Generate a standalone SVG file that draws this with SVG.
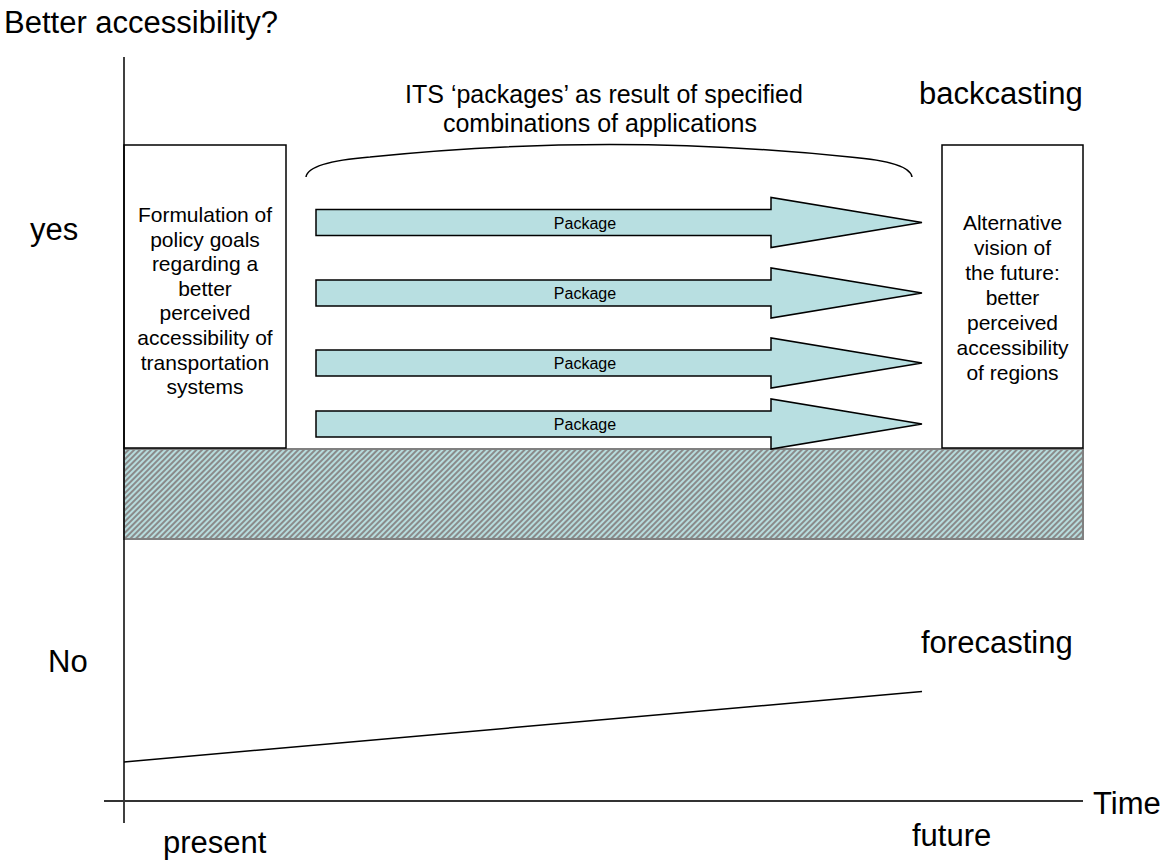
<svg xmlns="http://www.w3.org/2000/svg" width="1171" height="861" viewBox="0 0 1171 861">
  <style>
    text { font-family: "Liberation Sans", Arial, sans-serif; fill: #000; }
    .big { font-size: 31px; }
    .mid { font-size: 25px; }
    .box-text { font-size: 21px; text-anchor: middle; }
    .pkg-text { font-size: 16px; text-anchor: middle; }
    .box { fill: #fff; stroke: #000; stroke-width: 1.5; }
    .pkg { fill: #b8dfe1; stroke: #000; stroke-width: 1.5; stroke-linejoin: miter; }
    .axis { fill: none; stroke: #000; stroke-width: 1.5; }
  </style>
  <defs>
    <pattern id="hatch" patternUnits="userSpaceOnUse" width="4" height="4" patternTransform="rotate(45)">
      <rect width="4" height="4" fill="#b7dcdd"/>
      <rect width="2" height="4" fill="#8a8a8a"/>
    </pattern>
  </defs>

  <rect width="1171" height="861" fill="#fff"/>

  <!-- axis titles and labels -->
  <text class="big" x="4" y="33">Better accessibility?</text>
  <text class="big" x="919" y="104">backcasting</text>
  <text class="big" x="30" y="240">yes</text>
  <text class="big" x="48" y="672">No</text>
  <text class="big" x="921" y="653">forecasting</text>
  <text class="big" x="1093" y="814">Time</text>
  <text class="big" x="163" y="853">present</text>
  <text class="big" x="912" y="846">future</text>

  <text class="mid" x="604" y="103" text-anchor="middle">ITS ‘packages’ as result of specified</text>
  <text class="mid" x="600" y="132" text-anchor="middle">combinations of applications</text>

  <!-- non-improvement band -->
  <rect id="band" x="124" y="449" width="959" height="90" fill="url(#hatch)" stroke="#808080" stroke-width="2"/>

  <!-- goals box -->
  <g id="goals">
    <rect class="box" x="124" y="145" width="162" height="303"/>
    <text class="box-text" x="205" y="222">Formulation of</text>
    <text class="box-text" x="205" y="246.6">policy goals</text>
    <text class="box-text" x="205" y="271.2">regarding a</text>
    <text class="box-text" x="205" y="295.8">better</text>
    <text class="box-text" x="205" y="320.4">perceived</text>
    <text class="box-text" x="205" y="345">accessibility of</text>
    <text class="box-text" x="205" y="369.6">transportation</text>
    <text class="box-text" x="205" y="394.2">systems</text>
  </g>

  <!-- vision box -->
  <g id="vision">
    <rect class="box" x="942" y="145" width="141" height="303"/>
    <text class="box-text" x="1012.5" y="230">Alternative</text>
    <text class="box-text" x="1012.5" y="255">vision of</text>
    <text class="box-text" x="1012.5" y="280">the future:</text>
    <text class="box-text" x="1012.5" y="305">better</text>
    <text class="box-text" x="1012.5" y="330">perceived</text>
    <text class="box-text" x="1012.5" y="355">accessibility</text>
    <text class="box-text" x="1012.5" y="380">of regions</text>
  </g>

  <!-- package arrows -->
  <g id="package1">
    <path class="pkg" d="M316,209.5 H771 V197.5 L922,222.5 L771,247.5 V235.5 H316 Z"/>
    <text class="pkg-text" x="585" y="228.5">Package</text>
  </g>
  <g id="package2">
    <path class="pkg" d="M316,280 H771 V268 L922,293 L771,318 V306 H316 Z"/>
    <text class="pkg-text" x="585" y="299">Package</text>
  </g>
  <g id="package3">
    <path class="pkg" d="M316,350 H771 V338 L922,363 L771,388 V376 H316 Z"/>
    <text class="pkg-text" x="585" y="369">Package</text>
  </g>
  <g id="package4">
    <path class="pkg" d="M316,411 H771 V399 L922,424 L771,449 V437 H316 Z"/>
    <text class="pkg-text" x="585" y="430">Package</text>
  </g>

  <!-- connectors: brace, axes, forecast trend -->
  <g id="connectors">
    <path class="axis" d="M306,177 Q308,162 370,157 Q609,132 850,157 Q910,162 912,177"/>
    <line class="axis" x1="124" y1="57" x2="124" y2="823"/>
    <line x1="104" y1="801" x2="1083" y2="801" stroke="#333" stroke-width="2"/>
    <line class="axis" x1="124" y1="762" x2="922" y2="691.5"/>
  </g>
</svg>
